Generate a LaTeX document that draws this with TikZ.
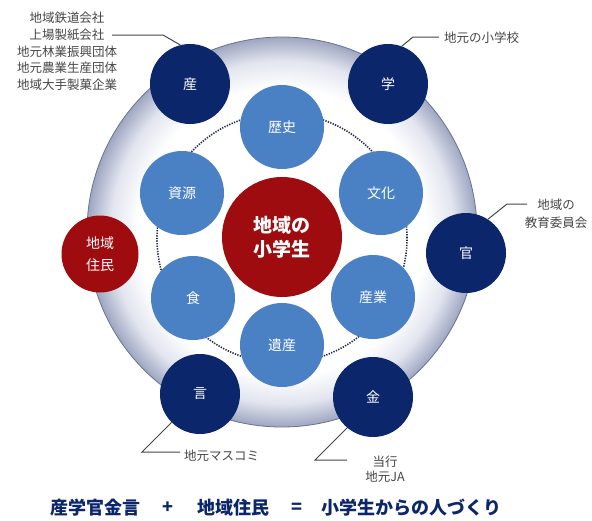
\documentclass[tikz,border=0pt]{standalone}
\usepackage{fontspec}
\setmainfont{Noto Sans CJK JP}
\definecolor{navy}{RGB}{12,38,108}
\definecolor{lblue}{RGB}{74,128,196}
\definecolor{maroon}{RGB}{158,12,16}
\definecolor{lgrey}{RGB}{70,70,70}
\definecolor{ringA}{RGB}{226,229,239}
\definecolor{ringB}{RGB}{158,166,193}
\definecolor{ringline}{RGB}{105,115,145}
\definecolor{dotc}{RGB}{35,42,70}
\pgfdeclareradialshading{ringshade}{\pgfpoint{0bp}{0bp}}{color(0bp)=(white); color(18.5bp)=(white); color(22bp)=(ringA); color(25bp)=(ringB); color(50bp)=(ringB)}
\begin{document}
\begin{tikzpicture}[x=1pt,y=-1pt,
  dark/.style={circle,fill=navy,minimum size=80pt,inner sep=0pt,text=white,font=\fontsize{14}{16}\selectfont},
  light/.style={circle,fill=lblue,minimum size=84pt,inner sep=0pt,text=white,font=\fontsize{14}{16}\selectfont},
  lbl/.style={text=lgrey,font=\fontsize{12.5}{16.7}\selectfont,align=center,inner sep=0pt},
  lead/.style={draw=lgrey,line width=1pt},
  ttl/.style={text=navy,font=\fontsize{18}{20}\selectfont\bfseries,inner sep=0pt}]
\useasboundingbox (0,0) rectangle (592,520);
\fill[white] (0,0) rectangle (592,520);
% outer ring
\shadedraw[shading=ringshade,draw=ringline,line width=0.8pt] (282,232) circle (195pt);
% dotted ring
\draw[dotc,line width=1.6pt,dash pattern=on 1.3pt off 1.3pt] (282,238) circle (125pt);
% light circles
\node[light] (reki) at (282,127) {歴史};
\node[light] (shigen) at (182,193) {資源};
\node[light] (bunka) at (381,193) {文化};
\node[light] (shoku) at (193,298) {食};
\node[light] (sangyo) at (373,297) {産業};
\node[light] (isan) at (282,345) {遺産};
% center
\node[circle,fill=maroon,minimum size=120pt,inner sep=0pt,text=white,align=center,
  font=\fontsize{19}{24}\selectfont\bfseries] (center) at (282,237) {地域の\\小学生};
% dark circles
\node[dark] (san) at (190,84) {産};
\node[dark] (gaku) at (388,84) {学};
\node[dark] (kan) at (466,253) {官};
\node[dark] (gen) at (200,394) {言};
\node[dark] (kin) at (373,397) {金};
\node[circle,fill=maroon,minimum size=77pt,inner sep=0pt,text=white,align=center,
  font=\fontsize{14}{22}\selectfont] (jumin) at (100,254) {地域\\住民};
% labels
\node[lbl] (sanlbl) at (67,51.5) {地域鉄道会社\\上場製紙会社\\地元林業振興団体\\地元農業生産団体\\地域大手製菓企業};
\coordinate (sanA) at (112,35);
\draw[lead] (sanA) -- (163,35) -- (san.104);
\node[lbl,anchor=west] (gakulbl) at (444,38) {地元の小学校};
\coordinate (gakuA) at (439,37);
\draw[lead] (gakuA) -- (413,37) -- (gaku.70);
\node[lbl,font=\fontsize{12.5}{18}\selectfont] (kanlbl) at (556,214) {地域の\\教育委員会};
\coordinate (kanA) at (527,204);
\draw[lead] (kanA) -- (507,204) -- (kan.57);
\node[lbl,anchor=west] (genlbl) at (184,456) {地元マスコミ};
\coordinate (genA) at (180,452);
\draw[lead] (genA) -- (142,452) -- (gen.225);
\node[lbl,font=\fontsize{12.5}{14.5}\selectfont] (kinlbl) at (385,469) {当行\\地元JA};
\coordinate (kinA) at (347,460);
\draw[lead] (kinA) -- (315,460) -- (kin.230);
% title
\node[ttl] (t1) at (95,508) {産学官金言};
\node[ttl] (plus) at (168,508) {+};
\node[ttl] (t2) at (233,508) {地域住民};
\node[ttl] (eq) at (297,508) {=};
\node[ttl] (t3) at (411,508) {小学生からの人づくり};
\end{tikzpicture}
\end{document}
